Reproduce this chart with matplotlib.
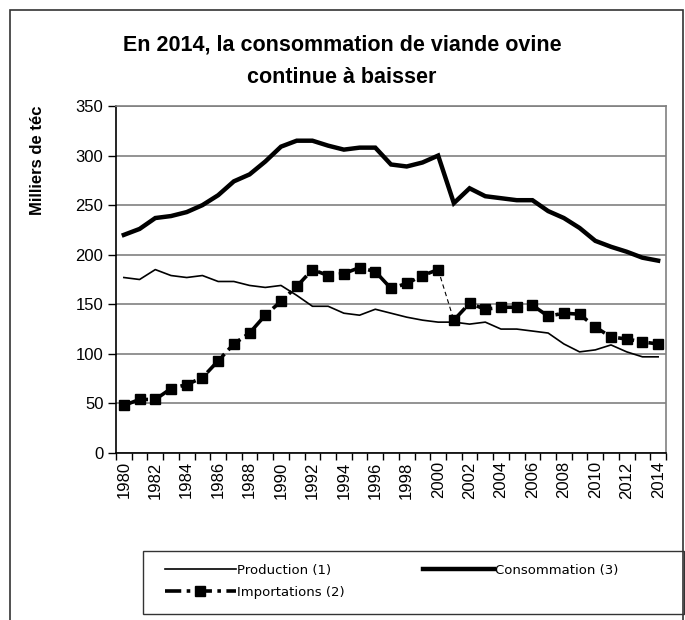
import matplotlib.pyplot as plt
from matplotlib.lines import Line2D
from matplotlib.patches import Rectangle
from matplotlib import font_manager

# data (milliers de téc)
years = list(range(1980, 2015))
production = [177, 175, 185, 179, 177, 179, 173, 173, 169, 167, 169, 159, 148, 148, 141, 139, 145, 141, 137, 134,
              132, 132, 130, 132, 125, 125, 123, 121, 110, 102, 104, 109, 102, 97, 97]
consommation = [220, 226, 237, 239, 243, 250, 260, 274, 281, 294, 309, 315, 315, 310, 306, 308, 308, 291, 289, 293,
                300, 252, 267, 259, 257, 255, 255, 244, 237, 227, 214, 208, 203, 197, 194]
importations = [48, 54, 54, 65, 69, 76, 93, 110, 121, 139, 153, 168, 185, 179, 181, 187, 183, 166, 171, 179,
                185, 134, 151, 145, 147, 147, 149, 138, 141, 140, 127, 117, 115, 112, 110]
labels = ["Production (1)", "Importations (2)", "Consommation (3)"]
title = "En 2014, la consommation de viande ovine\ncontinue à baisser"

installed = {f.name for f in font_manager.fontManager.ttflist}
title_font = "Liberation Sans Narrow" if "Liberation Sans Narrow" in installed else "Liberation Sans"

plt.rcParams['font.family'] = ['Liberation Sans', 'DejaVu Sans']

W, H = 685, 620
fig = plt.figure(figsize=(W / 100, H / 100), dpi=100)
ax = fig.add_axes([116 / W, 1 - 453 / H, 550 / W, 347 / H])

imp_style = dict(color='black', lw=2.6, marker='s', ms=7.5, dashes=(4.5, 1.5, 1, 1.5))
ax.plot(years, production, color='black', lw=1.2, zorder=3)
ax.plot(years, consommation, color='black', lw=3.2, solid_joinstyle='miter', zorder=3)
ax.plot(years[:21], importations[:21], zorder=4, **imp_style)
ax.plot(years[20:22], importations[20:22], color='black', lw=0.8, ls=(0, (4, 3)), zorder=3)
ax.plot(years[21:], importations[21:], zorder=4, **imp_style)

ax.set_xlim(1979.5, 2014.5)
ax.set_ylim(0, 350)
ax.set_yticks(range(0, 351, 50))
ax.set_xticks(years[::2])
ax.set_xticklabels([str(y) for y in years[::2]], rotation=90, fontsize=12)
ax.set_xticks([y - 0.5 for y in years] + [2014.5], minor=True)
ax.tick_params(axis='x', which='major', length=0, pad=6)
ax.tick_params(axis='x', which='minor', length=5, width=1, direction='out')
ax.tick_params(axis='y', length=6, width=1, labelsize=12, pad=3)
ax.grid(axis='y', color='#808080', lw=1.2)
ax.set_axisbelow(True)
for side in ['top', 'right']:
    ax.spines[side].set_color('#808080')
    ax.spines[side].set_linewidth(1.2)
for side in ['left', 'bottom']:
    ax.spines[side].set_linewidth(1.2)

fig.text(342 / W, 1 - 61 / H, title, ha='center', va='center', fontsize=15.5, fontweight='bold',
         family=[title_font, 'DejaVu Sans'], linespacing=1.75)
fig.text(38 / W, 1 - 160 / H, "Milliers de téc", rotation=90, ha='center', va='center',
         fontsize=12, fontweight='bold')

# outer chart border and legend box
fig.patches.append(Rectangle((10 / W, -0.05), 673 / W, 1.05 - 10 / H, transform=fig.transFigure,
                             fill=False, ec='#333333', lw=1.2))
fig.patches.append(Rectangle((143 / W, 1 - 614 / H), 541 / W, 63 / H, transform=fig.transFigure,
                             fill=False, ec='#333333', lw=1.0))

handles = [Line2D([], [], color='black', lw=1.2),
           Line2D([], [], **imp_style, markevery=[1]),
           Line2D([], [], color='black', lw=3.2)]
leg = fig.legend(handles, labels, ncol=2, loc='upper left', bbox_to_anchor=(162 / W, 1 - 561 / H),
                 borderaxespad=0, prop={'family': 'DejaVu Sans', 'size': 9.5}, handlelength=5.4,
                 handletextpad=0.1, columnspacing=5.9, frameon=False, borderpad=0.2, labelspacing=0.7)

fig.savefig("out.png", dpi=100)
